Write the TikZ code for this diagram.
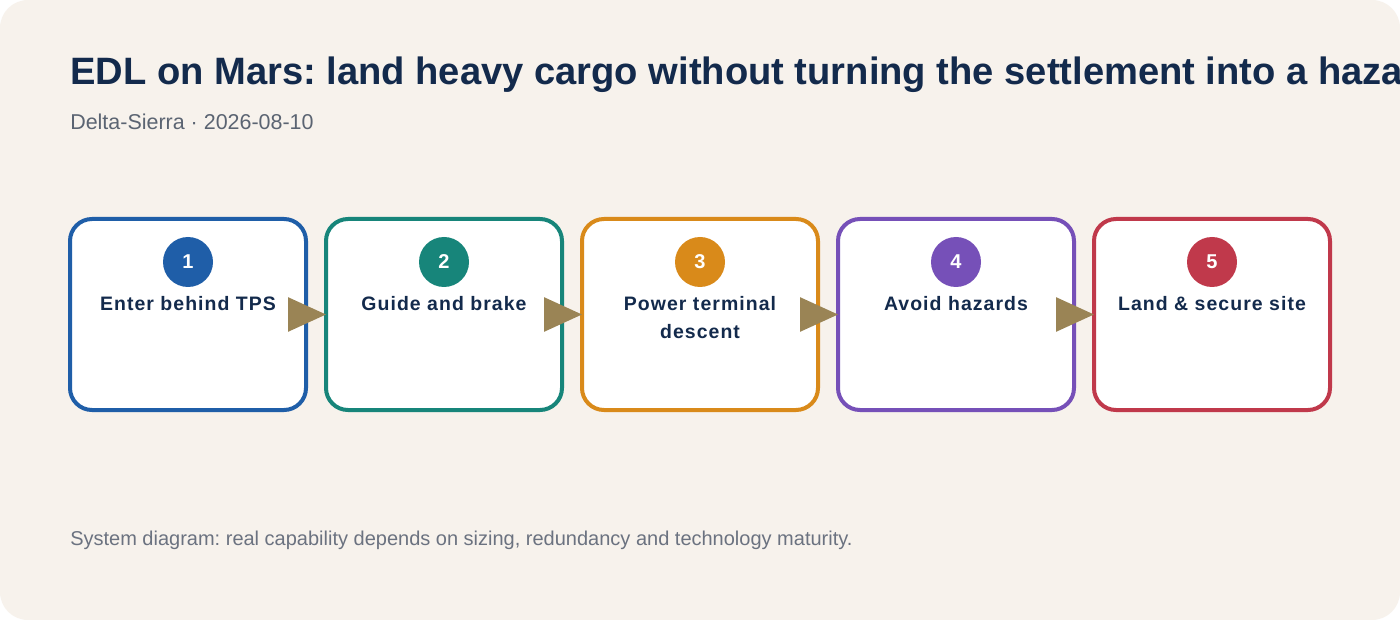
\documentclass[tikz,border=0pt]{standalone}
\usepackage{fontspec}
\setmainfont{Liberation Sans}
\newfontfamily\lblfont[LetterSpace=5.4]{Liberation Sans}
\usetikzlibrary{arrows.meta}
\frenchspacing
\definecolor{bg}{HTML}{F7F2EC}
\definecolor{navy}{HTML}{132A4C}
\definecolor{subgray}{HTML}{5B6472}
\definecolor{footgray}{HTML}{6B7280}
\definecolor{arrowc}{HTML}{9A8455}
\definecolor{cA}{HTML}{1F5EA8}
\definecolor{cB}{HTML}{17857A}
\definecolor{cC}{HTML}{D98A1A}
\definecolor{cD}{HTML}{7650B8}
\definecolor{cE}{HTML}{C0394B}
\tikzset{
  stepbox/.style={draw=#1, fill=white, line width=3pt, rounded corners=16.5pt,
    minimum width=177pt, minimum height=143.25pt, outer sep=0pt, inner sep=0pt},
  numdot/.style={circle, fill=#1, minimum size=37.5pt, inner sep=0pt,
    text=white, font=\fontsize{15}{18}\selectfont\bfseries},
  steplabel/.style={text=navy, align=center, inner sep=0pt, anchor=base,
    font=\lblfont\fontsize{14.6}{21}\selectfont\bfseries},
  flow/.style={draw=arrowc, line width=2pt,
    -{Triangle[length=28.5pt,width=25.5pt,fill=arrowc]}},
}
\begin{document}
\begin{tikzpicture}[x=0.75pt,y=-0.75pt]
\useasboundingbox (0,0) rectangle (1400,620);
\fill[white] (0,0) rectangle (1400,620);
\fill[bg, rounded corners=21pt] (0,0) rectangle (1400,620);

\node[anchor=base west, inner sep=0pt, text=navy, font=\fontsize{28.6}{32}\selectfont\bfseries] (title) at (70,85)
  {EDL on Mars: land heavy cargo without turning the settlement into a hazard};
\node[anchor=base west, inner sep=0pt, text=subgray, font=\fontsize{16.1}{19}\selectfont] (sub) at (70,130)
  {Delta-Sierra · 2026-08-10};

\node[stepbox=cA] (b1) at (188,314.5) {};
\node[stepbox=cB] (b2) at (444,314.5) {};
\node[stepbox=cC] (b3) at (700,314.5) {};
\node[stepbox=cD] (b4) at (956,314.5) {};
\node[stepbox=cE] (b5) at (1212,314.5) {};

\node[numdot=cA] (n1) at (188,262) {1};
\node[numdot=cB] (n2) at (444,262) {2};
\node[numdot=cC] (n3) at (700,262) {3};
\node[numdot=cD] (n4) at (956,262) {4};
\node[numdot=cE] (n5) at (1212,262) {5};

\node[steplabel] (l1) at (188,311) {Enter behind TPS};
\node[steplabel] (l2) at (444,311) {Guide and brake};
\node[steplabel] (l3) at (700,339) {Power terminal\\descent};
\node[steplabel] (l4) at (956,311) {Avoid hazards};
\node[steplabel] (l5) at (1212,311) {Land \& secure site};

\draw[flow] (b1.east) -- (b2.west);
\draw[flow] (b2.east) -- (b3.west);
\draw[flow] (b3.east) -- (b4.west);
\draw[flow] (b4.east) -- (b5.west);

\node[anchor=base west, inner sep=0pt, text=footgray, font=\fontsize{15}{18}\selectfont] (foot) at (70,545)
  {System diagram: real capability depends on sizing, redundancy and technology maturity.};
\end{tikzpicture}
\end{document}
